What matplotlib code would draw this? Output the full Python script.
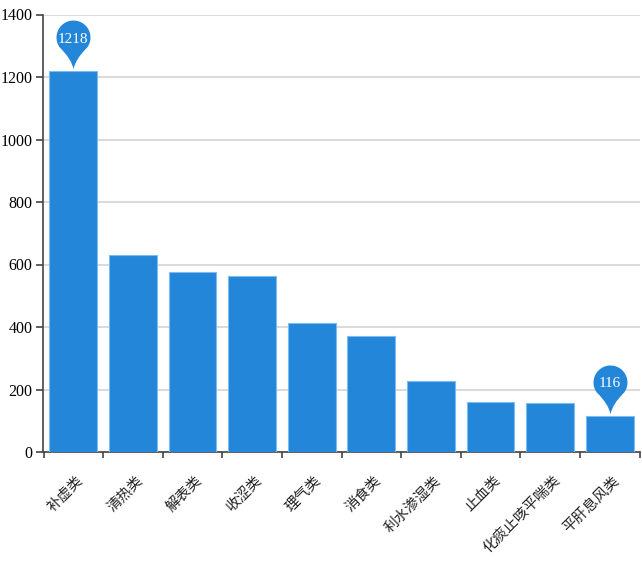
import matplotlib
matplotlib.use('Agg')
import matplotlib.pyplot as plt
import numpy as np
from matplotlib.path import Path

categories = ['补虚类', '清热类', '解表类', '收涩类', '理气类', '消食类',
              '利水渗湿类', '止血类', '化痰止咳平喘类', '平肝息风类']
values = [1218, 630, 575, 563, 412, 370, 227, 160, 156, 116]
y_ticks = [0, 200, 400, 600, 800, 1000, 1200, 1400]

BLUE = '#2386d8'
W, H = 642, 562

plt.rcParams['font.family'] = ['Liberation Serif', 'Noto Sans CJK SC', 'DejaVu Sans']

fig = plt.figure(figsize=(W / 100, H / 100), dpi=100)
ax = fig.add_axes([43.5 / W, 1 - 452 / H, 596 / W, 437.5 / H])


def pin_path():
    # pin with its tip at the origin, circle on top (pixel-ish units)
    r, c = 17, 34
    t = np.linspace(np.radians(-35), np.radians(215), 40)
    xs = r * np.cos(t)
    ys = c + r * np.sin(t)
    verts = [(0, 2), (1.5, 12), (xs[0], ys[0])] + list(zip(xs[1:], ys[1:])) + [(-1.5, 12), (0, 2), (0, 2)]
    codes = [Path.MOVETO, Path.CURVE3, Path.CURVE3] + [Path.LINETO] * 39 + [Path.CURVE3, Path.CURVE3, Path.CLOSEPOLY]
    return Path(np.array(verts) / 51.0, codes)


x = np.arange(len(categories))
ax.bar(x, values, width=0.8, color=BLUE, edgecolor='#7cbcf0', linewidth=0.8, zorder=3)

ax.set_xlim(-0.5, len(categories) - 0.5)
ax.set_ylim(0, 1400)
ax.set_yticks(y_ticks)
ax.set_xticks(np.arange(len(categories) + 1) - 0.5)
ax.set_xticklabels([])
ax.grid(axis='y', color='#d4d4d4', linewidth=1.2, zorder=0)
ax.set_axisbelow(True)

for s in ['top', 'right']:
    ax.spines[s].set_visible(False)
for s in ['left', 'bottom']:
    ax.spines[s].set_color('#444444')
    ax.spines[s].set_linewidth(1.2)
ax.tick_params(axis='y', labelsize=11.5, length=5, width=1.2, color='#444444', pad=3, labelcolor='black')
ax.tick_params(axis='x', length=4, width=1.2, color='#444444')

for i, name in enumerate(categories):
    ax.annotate(name, (i, 0), xytext=(2, -15.5), textcoords='offset points',
                rotation=45, rotation_mode='anchor', ha='right', va='top',
                fontsize=10.5, color='#222222', annotation_clip=False)

# pins on the largest and smallest bars
for i in [int(np.argmax(values)), int(np.argmin(values))]:
    ax.plot(i, values[i], marker=pin_path(), markersize=73.4, color=BLUE,
            markeredgewidth=0, linestyle='none', zorder=4, clip_on=False)
    ax.annotate(str(values[i]), (i, values[i]), xytext=(0, 23), textcoords='offset points',
                ha='center', va='center', color='white', fontsize=11, zorder=5)

fig.savefig('out.png', dpi=100)
